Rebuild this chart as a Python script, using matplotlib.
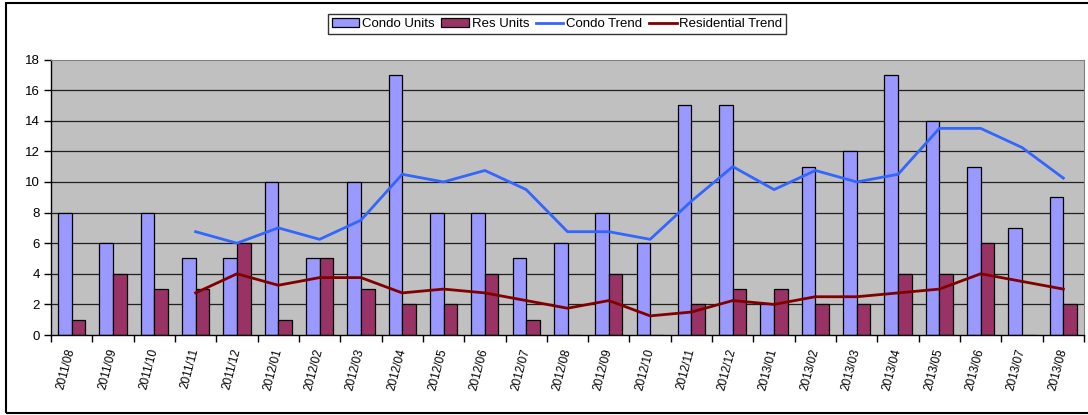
import numpy as np
import matplotlib.pyplot as plt
from matplotlib.patches import Rectangle

months = ['2011/08', '2011/09', '2011/10', '2011/11', '2011/12', '2012/01',
          '2012/02', '2012/03', '2012/04', '2012/05', '2012/06', '2012/07',
          '2012/08', '2012/09', '2012/10', '2012/11', '2012/12', '2013/01',
          '2013/02', '2013/03', '2013/04', '2013/05', '2013/06', '2013/07',
          '2013/08']
condo_units = [8, 6, 8, 5, 5, 10, 5, 10, 17, 8, 8, 5, 6, 8, 6, 15, 15, 2,
               11, 12, 17, 14, 11, 7, 9]
res_units = [1, 4, 3, 3, 6, 1, 5, 3, 2, 2, 4, 1, 0, 4, 0, 2, 3, 3,
             2, 2, 4, 4, 6, 0, 2]
# trend lines start at the 4th month (2011/11)
condo_trend = [6.75, 6, 7, 6.25, 7.5, 10.5, 10, 10.75, 9.5, 6.75, 6.75, 6.25,
               8.75, 11, 9.5, 10.75, 10, 10.5, 13.5, 13.5, 12.25, 10.25]
res_trend = [2.75, 4, 3.25, 3.75, 3.75, 2.75, 3, 2.75, 2.25, 1.75, 2.25, 1.25,
             1.5, 2.25, 2, 2.5, 2.5, 2.75, 3, 4, 3.5, 3]

plt.rcParams['font.family'] = ['Liberation Sans', 'DejaVu Sans']

fig = plt.figure(figsize=(10.88, 4.15), dpi=100)
ax = fig.add_axes([51/1088, 1-335/415, (1084-51)/1088, (335-59.5)/415])

# outer chart frame
fig.patches.append(Rectangle((6/1088, 2/415), 1.2, 410/415, transform=fig.transFigure,
                             fill=False, edgecolor='black', linewidth=1.5))

ind = np.arange(len(months))
width = 0.33
trend_x = ind[3:]

ax.set_facecolor('#C0C0C0')
for y in range(2, 18, 2):
    ax.axhline(y, color='#202020', linewidth=0.9, zorder=1)

b1 = ax.bar(ind - width/2, condo_units, width, color='#9999FF',
            edgecolor='black', linewidth=0.9, zorder=2)
b2 = ax.bar(ind + width/2, res_units, width, color='#993366',
            edgecolor='black', linewidth=0.9, zorder=2)
l1, = ax.plot(trend_x, condo_trend, color='#3366FF', linewidth=2, zorder=3)
l2, = ax.plot(trend_x, res_trend, color='#800000', linewidth=2, zorder=3)

ax.set_xlim(-0.5, len(months) - 0.5)
ax.set_ylim(0, 18)
ax.set_yticks(range(0, 19, 2))
ax.tick_params(axis='y', direction='out', length=5, width=1, labelsize=9.5, pad=3)

ax.set_xticks(ind)
ax.set_xticklabels(months, rotation=75, ha='right', va='center',
                   rotation_mode='anchor', fontsize=8.5)
ax.tick_params(axis='x', which='major', length=0, pad=10)
ax.set_xticks(np.arange(-0.5, len(months), 1), minor=True)
ax.tick_params(axis='x', which='minor', direction='out', length=5, width=1)

for side in ('top', 'right'):
    ax.spines[side].set_color('#808080')
for side in ('left', 'bottom'):
    ax.spines[side].set_color('black')
    ax.spines[side].set_linewidth(1)

leg = fig.legend((b1[0], b2[0], l1, l2),
                 ('Condo Units', 'Res Units', 'Condo Trend', 'Residential Trend'),
                 loc='center', bbox_to_anchor=(557/1088, 1-24/415), ncol=4,
                 fontsize=9.5, frameon=True, fancybox=False, borderpad=0.3,
                 handlelength=2.1, handletextpad=0.2, columnspacing=0.5,
                 handleheight=0.6)
leg.get_frame().set_edgecolor('black')
leg.get_frame().set_linewidth(1)

fig.savefig('out.png', dpi=100)
